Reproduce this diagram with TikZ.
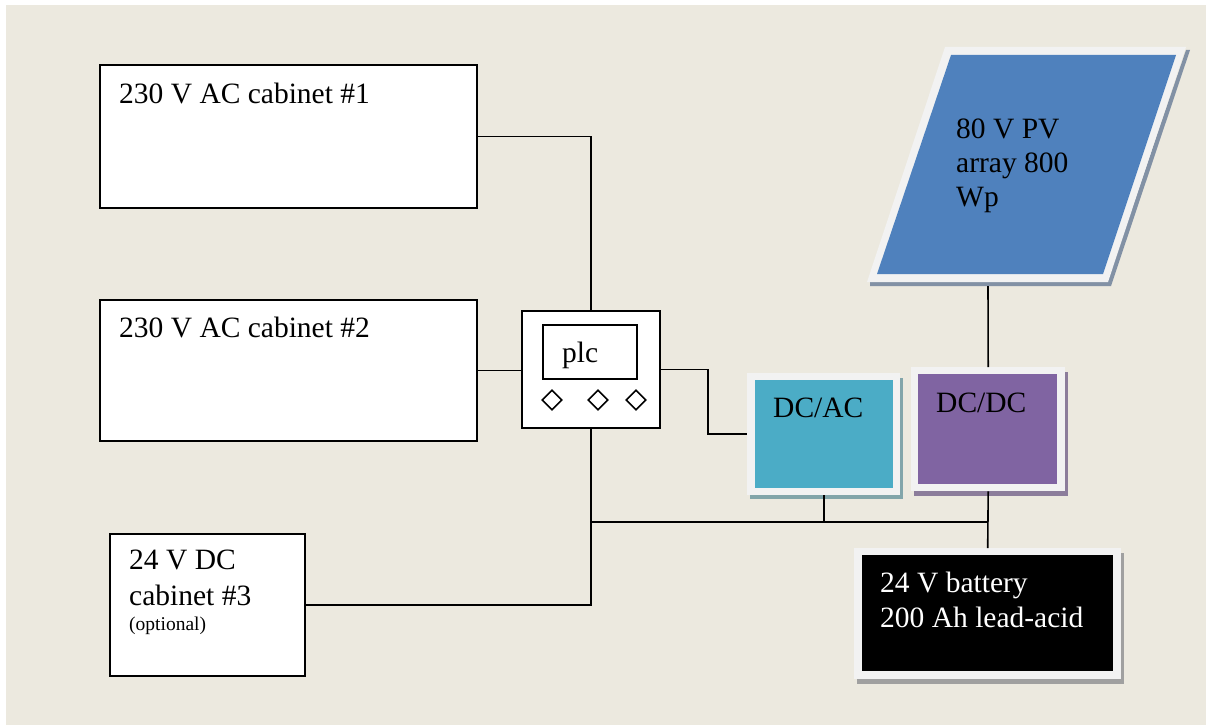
\documentclass[tikz,border=0pt]{standalone}
\usepackage{fontspec}
\setmainfont{Liberation Serif}
\usetikzlibrary{shapes.geometric}
\definecolor{bg}{RGB}{236,233,223}
\definecolor{frame}{RGB}{242,242,242}
\definecolor{pvblue}{RGB}{79,129,189}
\definecolor{teal}{RGB}{75,172,198}
\definecolor{purp}{RGB}{128,100,162}
\definecolor{shgray}{RGB}{160,160,160}
\definecolor{shteal}{RGB}{130,165,170}
\definecolor{shpurp}{RGB}{140,125,155}
\definecolor{shblue}{RGB}{130,145,165}
\begin{document}
\begin{tikzpicture}[x=1pt,y=-1pt,
  box/.style={draw=black, line width=2pt, fill=white, anchor=north west, inner sep=0pt},
  fr/.style={fill=frame, anchor=north west, inner sep=0pt},
  lbl/.style={anchor=base west, inner sep=0pt, font=\fontsize{29.5}{34}\selectfont},
  small/.style={anchor=base west, inner sep=0pt, font=\fontsize{19.5}{23}\selectfont},
  wire/.style={line width=1.6pt},
  dia/.style={diamond, draw, line width=1.6pt, minimum width=20pt, minimum height=20pt, inner sep=0pt}]
\useasboundingbox (0,0) rectangle (1206,725);
\fill[white] (0,0) rectangle (1206,725);
\fill[bg] (6,5) rectangle (1206,725);

% cabinets
\node[box, minimum width=377pt, minimum height=143pt] (cab1) at (99,64) {};
\node[lbl] (t1) at (119,103) {230 V AC cabinet \#1};
\node[box, minimum width=377pt, minimum height=141pt] (cab2) at (99,299) {};
\node[lbl] (t2) at (119,337) {230 V AC cabinet \#2};
\node[box, minimum width=195pt, minimum height=142pt] (cab3) at (109,533) {};
\node[lbl] (t3a) at (129,569) {24 V DC};
\node[lbl] (t3b) at (129,605) {cabinet \#3};
\node[small] (t3c) at (129,630) {(optional)};

% plc
\node[box, minimum width=138pt, minimum height=117pt] (plc) at (521,310) {};
\node[box, minimum width=94pt, minimum height=54pt] (scr) at (542,324) {};
\node[lbl] (tplc) at (562,362) {plc};
\node[dia] (d1) at (552,400) {};
\node[dia] (d2) at (598,400) {};
\node[dia] (d3) at (636,400) {};

% DC/AC
\fill[shteal] (750,491) rectangle (903,499);
\fill[shteal] (896,378) rectangle (903,499);
\node[fr, minimum width=153pt, minimum height=122pt] (dcac) at (747,373) {};
\fill[teal] (755,380) rectangle (893,488);
\node[lbl] (tdcac) at (773,417) {DC/AC};

% DC/DC
\fill[shpurp] (914,488) rectangle (1068,496);
\fill[shpurp] (1061,372) rectangle (1068,496);
\node[fr, minimum width=154pt, minimum height=124pt] (dcdc) at (911,367) {};
\fill[purp] (918,374) rectangle (1057,484);
\node[lbl] (tdcdc) at (936,412) {DC/DC};

% battery
\fill[shgray] (857,676) rectangle (1124,684);
\fill[shgray] (1117,553) rectangle (1124,684);
\node[fr, minimum width=267pt, minimum height=131pt] (batt) at (854,548) {};
\fill[black] (862,555) rectangle (1113,671);
\node[lbl, text=white] (tb1) at (880,592) {24 V battery};
\node[lbl, text=white] (tb2) at (880,627) {200 Ah lead-acid};

% PV array
\fill[shblue] (870,279) -- (1108,279) -- (1186,50) -- (1190,50) -- (1111,286) -- (870,286) -- cycle;
\fill[frame] (945,47) -- (1186,47) -- (1108,282) -- (867,282) -- cycle;
\fill[pvblue] (951,55) -- (1176,55) -- (1103,274) -- (877,274) -- cycle;
\coordinate (pv) at (988,286);
\node[lbl] (tpv1) at (956,138) {80 V PV};
\node[lbl] (tpv2) at (956,172) {array 800};
\node[lbl] (tpv3) at (956,206) {Wp};

% connectors
\coordinate (busL) at (590,522);
\coordinate (busR) at (988,522);
\draw[wire] (cab1.east) -| (plc.north);
\draw[wire] (cab2.east) -- (cab2.east -| plc.west);
\draw[wire] (plc.east) -- ++(47,0) |- (dcac.west);
\draw[wire] (plc.south) |- (cab3.east);
\draw[wire] (busL) -- (busR);
\draw[wire] (dcac.south) -- (dcac.south |- busR);
\draw[wire] (dcdc.south) -- (batt.north);
\draw[wire] (pv) -- (dcdc.north);
\end{tikzpicture}
\end{document}
